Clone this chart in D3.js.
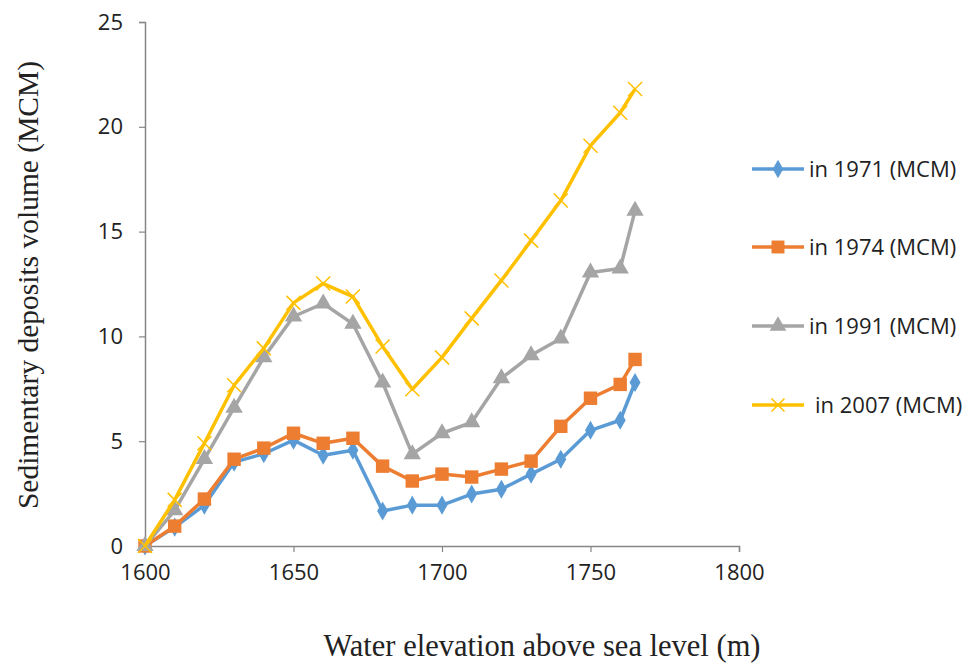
<!DOCTYPE html>
<html>
<head>
<meta charset="utf-8">
<script src="https://cdn.jsdelivr.net/npm/d3@7"></script>
<style>
  body { margin: 0; background: #fff; }
  svg { display: block; }
</style>
</head>
<body>
<div id="chart"></div>
<script>
// chart data
const elevations = [1600, 1610, 1620, 1630, 1640, 1650, 1660, 1670, 1680, 1690, 1700, 1710, 1720, 1730, 1740, 1750, 1760, 1765];
const vol1971 = [0, 0.9, 1.95, 4.0, 4.4, 5.05, 4.33, 4.57, 1.67, 1.95, 1.95, 2.48, 2.71, 3.43, 4.14, 5.52, 6.0, 7.8];
const vol1974 = [0, 0.95, 2.24, 4.14, 4.67, 5.38, 4.9, 5.14, 3.81, 3.1, 3.43, 3.29, 3.67, 4.05, 5.71, 7.05, 7.71, 8.9];
const vol1991 = [0, 1.7, 4.15, 6.6, 9.0, 10.95, 11.57, 10.6, 7.8, 4.38, 5.38, 5.9, 8.0, 9.1, 9.9, 13.05, 13.24, 16.0];
const vol2007 = [0, 2.2, 4.9, 7.67, 9.43, 11.6, 12.52, 11.9, 9.52, 7.48, 9.0, 10.86, 12.67, 14.57, 16.48, 19.1, 20.67, 21.8];
const seriesNames = ["in 1971 (MCM)", "in 1974 (MCM)", "in 1991 (MCM)", "in 2007 (MCM)"];
const xTicks = [1600, 1650, 1700, 1750, 1800];
const yTicks = [0, 5, 10, 15, 20, 25];

const WIDTH = 974, HEIGHT = 664;

const series = [
  {name: seriesNames[0], values: vol1971, color: "#5B9BD5", marker: "diamond"},
  {name: seriesNames[1], values: vol1974, color: "#ED7D31", marker: "square"},
  {name: seriesNames[2], values: vol1991, color: "#A5A5A5", marker: "triangle"},
  {name: seriesNames[3], values: vol2007, color: "#FFC000", marker: "cross"}
];

const svg = d3.select("#chart")
  .append("svg")
    .attr("width", WIDTH)
    .attr("height", HEIGHT);

const x = d3.scaleLinear()
  .domain([1600, 1800])
  .range([145, 739]);

const y = d3.scaleLinear()
  .domain([0, 25])
  .range([546, 22]);

const axisColor = "#868686";
const tickFont = "'Open Sans', 'Liberation Sans', sans-serif";
const titleFont = "'Liberation Serif', 'DejaVu Serif', serif";

// x axis
const gx = svg.append("g")
  .attr("transform", "translate(0," + y(0) + ")")
  .call(d3.axisBottom(x).tickValues(xTicks).tickSize(6).tickPadding(12).tickFormat(d3.format("d")));
gx.select(".domain").attr("stroke", axisColor).attr("stroke-width", 1.5);
gx.selectAll(".tick line").attr("stroke", axisColor).attr("stroke-width", 1.2);
gx.selectAll(".tick text")
  .attr("fill", "#222")
  .attr("font-family", tickFont)
  .attr("font-size", 22);

// y axis
const gy = svg.append("g")
  .attr("transform", "translate(" + x(1600) + ",0)")
  .call(d3.axisLeft(y).tickValues(yTicks).tickSize(6).tickPadding(16));
gy.select(".domain").attr("stroke", axisColor).attr("stroke-width", 1.5);
gy.selectAll(".tick line").attr("stroke", axisColor).attr("stroke-width", 1.2);
gy.selectAll(".tick text")
  .attr("fill", "#222")
  .attr("font-family", tickFont)
  .attr("font-size", 22);

// axis titles
svg.append("text")
  .attr("x", 542)
  .attr("y", 656)
  .attr("text-anchor", "middle")
  .attr("font-family", titleFont)
  .attr("font-size", 30.5)
  .attr("fill", "#222")
  .text("Water elevation above sea level (m)");

svg.append("text")
  .attr("transform", "translate(38,285) rotate(-90)")
  .attr("text-anchor", "middle")
  .attr("font-family", titleFont)
  .attr("font-size", 29.5)
  .attr("fill", "#222")
  .text("Sedimentary deposits volume (MCM)");

const line = d3.line()
  .x((d, i) => x(elevations[i]))
  .y(d => y(d));

function drawMarker(g, type, color, size) {
  if (type === "cross") {
    const s = size / 2;
    g.append("path")
      .attr("d", `M${-s},${-s}L${s},${s}M${-s},${s}L${s},${-s}`)
      .attr("stroke", color)
      .attr("stroke-width", 1.5)
      .attr("fill", "none");
  } else {
    const sym = {diamond: d3.symbolDiamond, square: d3.symbolSquare, triangle: d3.symbolTriangle}[type];
    const area = {diamond: 105, square: 180, triangle: 130}[type];
    g.append("path")
      .attr("d", d3.symbol().type(sym).size(area * size / 14)())
      .attr("fill", color);
  }
}

series.forEach(s => {
  svg.append("path")
    .datum(s.values)
    .attr("fill", "none")
    .attr("stroke", s.color)
    .attr("stroke-width", 3.5)
    .attr("stroke-linejoin", "round")
    .attr("d", line);

  s.values.forEach((v, i) => {
    const g = svg.append("g")
      .attr("transform", "translate(" + x(elevations[i]) + "," + y(v) + ")");
    drawMarker(g, s.marker, s.color, 14);
  });
});

// legend
const legendY = [169, 247, 326, 405];
series.forEach((s, i) => {
  const g = svg.append("g")
    .attr("transform", "translate(752," + legendY[i] + ")");
  g.append("line")
    .attr("x1", 0).attr("x2", 52)
    .attr("y1", 0).attr("y2", 0)
    .attr("stroke", s.color)
    .attr("stroke-width", 3.5);
  const m = g.append("g").attr("transform", "translate(26,0)");
  drawMarker(m, s.marker, s.color, 13);
  g.append("text")
    .attr("x", i === 3 ? 63 : 57)
    .attr("y", 8)
    .attr("font-family", tickFont)
    .attr("font-size", 22)
    .attr("fill", "#222")
    .text(s.name);
});
</script>
</body>
</html>
